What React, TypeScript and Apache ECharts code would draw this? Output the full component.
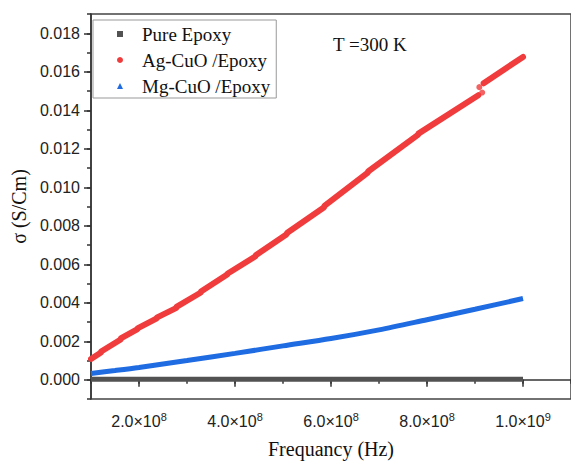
import React, { useEffect, useRef } from "react";
import * as echarts from "echarts";

// ---- data ----
const legendNames = ["Pure Epoxy", "Ag-CuO /Epoxy", "Mg-CuO /Epoxy"];

const pureFreq = [1.0e8, 3.0e8, 5.0e8, 7.0e8, 1.0e9];
const pureSigma = [0.00002, 0.00002, 0.00002, 0.00003, 0.00003];

// Ag-CuO: short straight runs separated by small jogs
const agSegFreq = [
  [1.0e8, 1.2e8],
  [1.22e8, 1.61e8],
  [1.63e8, 1.96e8],
  [1.98e8, 2.36e8],
  [2.38e8, 2.77e8],
  [2.79e8, 3.28e8],
  [3.3e8, 3.83e8],
  [3.85e8, 4.42e8],
  [4.44e8, 5.07e8],
  [5.09e8, 5.85e8],
  [5.87e8, 6.76e8],
  [6.78e8, 7.81e8],
  [7.83e8, 9.07e8],
  [9.18e8, 1.0e9],
];
const agSegSigma = [
  [0.00108, 0.0014],
  [0.00148, 0.00208],
  [0.00216, 0.00262],
  [0.00268, 0.00318],
  [0.00324, 0.00372],
  [0.0038, 0.00452],
  [0.0046, 0.00545],
  [0.00552, 0.0064],
  [0.00648, 0.00755],
  [0.00764, 0.00895],
  [0.00905, 0.01075],
  [0.01083, 0.01272],
  [0.0128, 0.01478],
  [0.0154, 0.01677],
];
const agDotFreq = [9.09e8, 9.15e8];
const agDotSigma = [0.0152, 0.01492];

const mgFreq = [1.0e8, 1.5e8, 2.0e8, 3.0e8, 4.0e8, 5.0e8, 6.0e8, 7.0e8, 8.0e8, 9.0e8, 1.0e9];
const mgSigma = [0.00033, 0.00048, 0.00064, 0.001, 0.00137, 0.00176, 0.00214, 0.00259, 0.00312, 0.00366, 0.00422];

const xMajorTicks = [2e8, 4e8, 6e8, 8e8, 1e9];
const yMajorTicks = [0, 0.002, 0.004, 0.006, 0.008, 0.01, 0.012, 0.014, 0.016, 0.018];

const C_PURE = "#525252";
const C_AG = "#f03c3c";
const C_MG = "#1f6be2";
const AXIS = "#333";

function fmtX(v: number) {
  const e = Math.floor(Math.log10(v) + 1e-9);
  const m = v / Math.pow(10, e);
  return `{a|${m.toFixed(1)}×10}{s|${e}}`;
}

export default function App() {
  const ref = useRef<HTMLDivElement>(null);
  useEffect(() => {
    const chart = echarts.init(ref.current!, null, { renderer: "svg" });
    const zip = (xs: number[], ys: number[]) => xs.map((x, i) => [x, ys[i]]);

    const agSeries = agSegFreq.map((f, i) => ({
      type: "line",
      name: legendNames[1],
      data: zip(f, agSegSigma[i]),
      showSymbol: false,
      symbol: "none",
      lineStyle: { color: C_AG, width: 6, cap: "round" },
      itemStyle: { color: C_AG },
      z: 4,
    }));

    const option: any = {
      animation: false,
      backgroundColor: "#fff",
      grid: {
        left: 91,
        top: 14,
        width: 490,
        height: 389,
        show: true,
        borderColor: "#444",
        borderWidth: 1.5,
        containLabel: false,
      },
      legend: {
        orient: "vertical",
        left: 93,
        top: 20,
        padding: [4, 6, 2, 24],
        itemWidth: 6,
        itemHeight: 6,
        itemGap: 6,
        borderColor: "#999",
        borderWidth: 1,
        backgroundColor: "#fff",
        selectedMode: false,
        textStyle: {
          fontFamily: "Liberation Serif",
          fontSize: 19,
          lineHeight: 20,
          color: "#111",
          padding: [0, 0, 0, 14],
        },
        data: [
          { name: legendNames[0], icon: "rect", itemStyle: { color: C_PURE } },
          { name: legendNames[1], icon: "circle", itemStyle: { color: C_AG } },
          { name: legendNames[2], icon: "triangle", itemStyle: { color: C_MG } },
        ],
      },
      graphic: [
        {
          type: "text",
          left: 333,
          top: 35,
          style: {
            text: "T =300 K",
            fontFamily: "Liberation Serif",
            fontSize: 19,
            fill: "#111",
          },
        },
      ],
      xAxis: [
        {
          type: "value",
          min: 1e8,
          max: 1.1e9,
          position: "bottom",
          name: "Frequancy (Hz)",
          nameLocation: "middle",
          nameGap: 40,
          nameTextStyle: { fontFamily: "Liberation Serif", fontSize: 20, color: "#111" },
          axisLine: { show: true, lineStyle: { color: AXIS, width: 1.5 } },
          axisTick: { show: true, customValues: xMajorTicks, length: 7, inside: false, lineStyle: { color: AXIS, width: 1.5 } },
          axisLabel: {
            show: true,
            customValues: xMajorTicks,
            margin: 12,
            formatter: (v: number) => fmtX(v),
            rich: {
              a: { fontFamily: "Liberation Sans", fontSize: 16, color: "#222" },
              s: { fontFamily: "Liberation Sans", fontSize: 11, color: "#222", padding: [0, 0, 9, 0] },
            },
          },
          splitLine: { show: false },
        },
        {
          type: "value",
          min: 1e8,
          max: 1.1e9,
          interval: 1e8,
          position: "bottom",
          axisLine: { show: false },
          axisTick: { show: true, length: 4, lineStyle: { color: AXIS, width: 1.5 } },
          axisLabel: { show: false },
          splitLine: { show: false },
        },
      ],
      yAxis: [
        {
          type: "value",
          min: -0.001,
          max: 0.019,
          position: "left",
          name: "σ (S/Cm)",
          nameLocation: "middle",
          nameGap: 57,
          nameTextStyle: { fontFamily: "Liberation Serif", fontSize: 20, color: "#111" },
          axisLine: { show: true, lineStyle: { color: AXIS, width: 1.5 } },
          axisTick: { show: true, customValues: yMajorTicks, length: 7, lineStyle: { color: AXIS, width: 1.5 } },
          axisLabel: {
            show: true,
            customValues: yMajorTicks,
            margin: 11,
            formatter: (v: number) => v.toFixed(3),
            fontFamily: "Liberation Sans",
            fontSize: 16,
            color: "#222",
          },
          splitLine: { show: false },
        },
        {
          type: "value",
          min: -0.001,
          max: 0.019,
          interval: 0.001,
          position: "left",
          axisLine: { show: false },
          axisTick: { show: true, length: 4, lineStyle: { color: AXIS, width: 1.5 } },
          axisLabel: { show: false },
          splitLine: { show: false },
        },
      ],
      series: [
        {
          type: "line",
          name: legendNames[0],
          data: zip(pureFreq, pureSigma),
          showSymbol: false,
          symbol: "none",
          lineStyle: { color: C_PURE, width: 5, cap: "butt" },
          itemStyle: { color: C_PURE },
          z: 2,
        },
        {
          type: "line",
          name: legendNames[2],
          data: zip(mgFreq, mgSigma),
          smooth: 0.3,
          showSymbol: false,
          symbol: "none",
          lineStyle: { color: C_MG, width: 5, cap: "butt" },
          itemStyle: { color: C_MG },
          z: 3,
        },
        ...agSeries,
        {
          type: "scatter",
          name: legendNames[1],
          data: zip(agDotFreq, agDotSigma),
          symbol: "circle",
          symbolSize: 6,
          itemStyle: { color: C_AG },
          z: 4,
        },
      ],
    };
    chart.setOption(option);
    return () => chart.dispose();
  }, []);
  return (
    <div
      ref={ref}
      style={{ position: "fixed", left: 0, top: 0, width: 571, height: 464, background: "#fff" }}
    />
  );
}
